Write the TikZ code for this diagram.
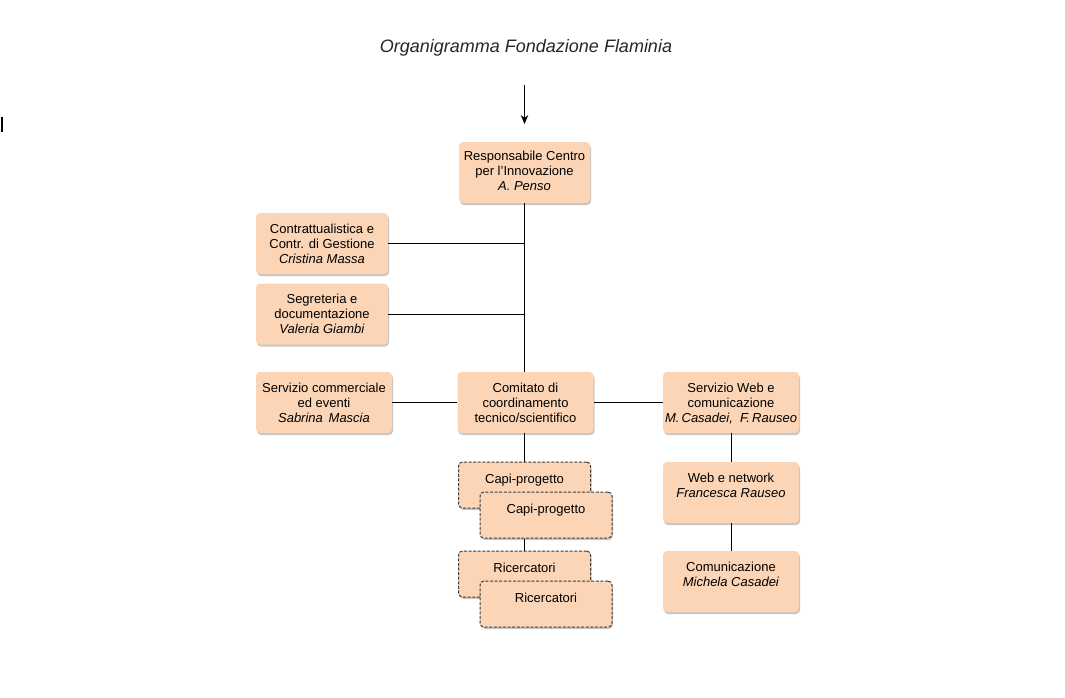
\documentclass[tikz,border=0pt]{standalone}
\usepackage{fontspec}
\setmainfont{Liberation Sans}
\usetikzlibrary{shadows,arrows.meta}
\definecolor{peach}{RGB}{251,213,181}
\definecolor{dashgray}{RGB}{60,60,60}
\begin{document}
\begin{tikzpicture}[x=1pt,y=-1pt,
  box/.style={fill=peach, rounded corners=4pt, inner sep=0pt,
    drop shadow={shadow xshift=1pt, shadow yshift=-2pt, fill=black!50, opacity=0.45}},
  bigbox/.style={box, minimum width=#1, minimum height=61pt},
  dbox/.style={box, draw=dashgray, dash pattern=on 3pt off 1.6pt, line width=1pt, minimum width=132pt, minimum height=46pt},
  txt/.style={anchor=north, align=center, inner sep=0pt, font=\fontsize{13}{15}\selectfont,
    execute at begin node=\strut},
  conn/.style={line width=0.9pt, black}]
\useasboundingbox (0,0) rectangle (1065,697);
% title
\node[font=\fontsize{18}{21}\selectfont\itshape, text=black!85] (title) at (526,48) {Organigramma Fondazione Flaminia};
\coordinate (a1) at (524.5,85);
\coordinate (a2) at (524.5,124);
\draw[conn, -{Stealth[length=9pt,width=7.5pt]}] (a1) -- (a2);
% cursor mark
\coordinate (c1) at (2,117);
\coordinate (c2) at (2,132);
\draw[line width=1.6pt] (c1) -- (c2);
% boxes
\node[bigbox=131pt] (resp) at (524.5,172.5) {};
\node[txt] (resp-t) at ([yshift=-9pt]resp.north) {Responsabile Centro\\per l'Innovazione\\\textit{A. Penso}};
\node[bigbox=132pt] (contr) at (322,243.5) {};
\node[txt] (contr-t) at ([yshift=-11pt]contr.north) {Contrattualistica e\\Contr. di Gestione\\\textit{Cristina Massa}};
\node[bigbox=132pt] (segr) at (322,314) {};
\node[txt] (segr-t) at ([yshift=-11pt]segr.north) {Segreteria e\\documentazione\\\textit{Valeria Giambi}};
\node[bigbox=136pt] (comm) at (324,402.5) {};
\node[txt] (comm-t) at ([yshift=-11pt]comm.north) {Servizio commerciale\\ed eventi\\\textit{Sabrina\, Mascia}};
\node[bigbox=136pt] (comit) at (525.5,402.5) {};
\node[txt] (comit-t) at ([yshift=-11pt]comit.north) {Comitato di\\coordinamento\\tecnico/scientifico};
\node[bigbox=136pt] (web) at (731,402.5) {};
\node[txt] (web-t) at ([yshift=-11pt]web.north) {Servizio Web e\\comunicazione\\\textit{M.\,Casadei,\ \ F.\,Rauseo}};
\node[bigbox=136pt] (net) at (731,492.5) {};
\node[txt] (net-t) at ([yshift=-11pt]net.north) {Web e network\\\textit{Francesca Rauseo}};
\node[bigbox=136pt] (comu) at (731,581.5) {};
\node[txt] (comu-t) at ([yshift=-11pt]comu.north) {Comunicazione\\\textit{Michela Casadei}};
\node[dbox] (capiB) at (524.5,485) {};
\node[txt] (capiB-t) at ([yshift=-11pt]capiB.north) {Capi-progetto};
\node[dbox] (capiF) at (546,515) {};
\node[txt] (capiF-t) at ([yshift=-11pt]capiF.north) {Capi-progetto};
\node[dbox] (ricB) at (524.5,574) {};
\node[txt] (ricB-t) at ([yshift=-11pt]ricB.north) {Ricercatori};
\node[dbox] (ricF) at (546,604) {};
\node[txt] (ricF-t) at ([yshift=-11pt]ricF.north) {Ricercatori};
% connectors
\draw[conn] (resp.south) -- (resp.south |- comit.north);
\draw[conn] (contr.east) -- (contr.east -| resp.south);
\draw[conn] (segr.east) -- (segr.east -| resp.south);
\draw[conn] (comm.east) -- (comit.west);
\draw[conn] (comit.east) -- (web.west);
\draw[conn] (comit.south -| capiB.north) -- (capiB.north);
\draw[conn] (capiF.south -| capiB.north) -- (ricB.north);
\draw[conn] (web.south) -- (net.north);
\draw[conn] (net.south) -- (comu.north);
\end{tikzpicture}
\end{document}
